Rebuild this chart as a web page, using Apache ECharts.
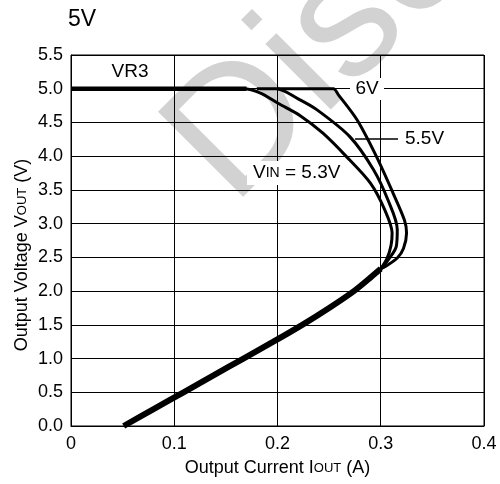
<!DOCTYPE html>
<html>
<head>
<meta charset="utf-8">
<script src="https://cdn.jsdelivr.net/npm/echarts@6/dist/echarts.min.js"></script>
<style>
  html, body { margin: 0; padding: 0; background: #fff; }
  #chart { width: 500px; height: 484px; }
</style>
</head>
<body>
<div id="chart"></div>
<script>
// 共同の下側カーブ (フォールドバック)
const baseCurrent = [0.051, 0.08, 0.109, 0.138, 0.167, 0.196, 0.224, 0.25, 0.274, 0.29, 0.30];
const baseVoltage = [0, 0.25, 0.5, 0.75, 1.0, 1.25, 1.5, 1.75, 2.0, 2.2, 2.33];

// 5.0V flat part shared by all curves
const flatCurrent = [0, 0.17];
const flatVoltage = [5.0, 5.0];

const vin53Current = [0.14, 0.167, 0.183, 0.201, 0.222, 0.244, 0.267, 0.29, 0.304, 0.311, 0.310, 0.306, 0.30];
const vin53Voltage = [5.0, 5.0, 4.94, 4.78, 4.6, 4.34, 3.99, 3.6, 3.2, 2.86, 2.68, 2.48, 2.33];

const vin55Current = [0.18, 0.199, 0.22, 0.238, 0.27, 0.293, 0.307, 0.316, 0.315, 0.309, 0.30];
const vin55Voltage = [5.0, 5.0, 4.85, 4.69, 4.29, 3.80, 3.35, 2.91, 2.66, 2.5, 2.33];

const vin6Current = [0.2, 0.254, 0.259, 0.277, 0.296, 0.312, 0.323, 0.325, 0.322, 0.316, 0.306, 0.30];
const vin6Voltage = [5.0, 5.0, 4.91, 4.54, 3.99, 3.45, 3.05, 2.86, 2.63, 2.49, 2.38, 2.33];

const xTicks = ['0', '0.1', '0.2', '0.3', '0.4'];

const pairs = (xs, ys) => xs.map((x, i) => [x, ys[i]]);

const font = '"Liberation Sans", Arial, sans-serif';
const chart = echarts.init(document.getElementById('chart'));

const curve = (name, xs, ys, width) => ({
    name: name,
    type: 'line',
    data: pairs(xs, ys),
    symbol: 'none',
    smooth: 0.3,
    lineStyle: { color: '#000', width: width },
    z: 5
});

const option = {
    animation: false,
    backgroundColor: '#fff',
    grid: {
        left: 71,
        right: 16,
        top: 55,
        bottom: 58,
        show: true,
        borderColor: '#000',
        borderWidth: 1
    },
    xAxis: {
        type: 'value',
        min: 0,
        max: 0.4,
        interval: 0.1,
        name: 'Output Current I{s|OUT} (A)',
        nameLocation: 'middle',
        nameGap: 33,
        nameTextStyle: {
            color: '#000', fontSize: 18, fontFamily: font,
            rich: { s: { fontSize: 13, fontFamily: font, color: '#000' } }
        },
        axisLine: { lineStyle: { color: '#000' } },
        axisTick: { show: false },
        axisLabel: {
            color: '#000', fontSize: 18, fontFamily: font, margin: 9,
            formatter: (v) => xTicks[Math.round(v * 10)]
        },
        splitLine: { show: true, lineStyle: { color: '#000', width: 1 } }
    },
    yAxis: {
        type: 'value',
        min: 0,
        max: 5.5,
        interval: 0.5,
        axisLine: { show: true, lineStyle: { color: '#000' } },
        axisTick: { show: false },
        axisLabel: {
            color: '#000', fontSize: 18, fontFamily: font, margin: 8,
            formatter: (v) => v.toFixed(1)
        },
        splitLine: { show: true, lineStyle: { color: '#000', width: 1 } }
    },
    graphic: [
        {
            // watermark
            type: 'text',
            z: -10,
            x: 199,
            y: 173,
            rotation: 45 * Math.PI / 180,
            silent: true,
            style: {
                text: 'Disc',
                font: '175px "Liberation Sans", Arial, sans-serif',
                fill: '#d2d2d2',
                textAlign: 'left',
                textVerticalAlign: 'middle'
            }
        },
        {
            // y axis title
            type: 'text', z: 20, x: 22, y: 255,
            rotation: Math.PI / 2,
            style: {
                text: 'Output Voltage V{s|OUT} (V)',
                textAlign: 'center',
                textVerticalAlign: 'middle',
                fontSize: 18,
                fontFamily: font,
                fill: '#000',
                rich: { s: { fontSize: 13, fontFamily: font, fill: '#000' } }
            }
        },
        {
            type: 'text', z: 20, x: 68, y: 20,
            style: { text: '5V', font: '23px "Liberation Sans", Arial, sans-serif', fill: '#000', textVerticalAlign: 'middle' }
        },
        {
            type: 'text', z: 20, x: 130, y: 72,
            style: { text: 'VR3', font: '19px "Liberation Sans", Arial, sans-serif', fill: '#000', textAlign: 'center', textVerticalAlign: 'middle' }
        },
        {
            type: 'rect', z: 15, shape: { x: 350, y: 78, width: 34, height: 22 },
            style: { fill: '#fff' }
        },
        {
            type: 'text', z: 20, x: 367, y: 89,
            style: { text: '6V', font: '19px "Liberation Sans", Arial, sans-serif', fill: '#000', textAlign: 'center', textVerticalAlign: 'middle' }
        },
        {
            type: 'line', z: 20, shape: { x1: 355, y1: 139, x2: 398, y2: 139 },
            style: { stroke: '#000', lineWidth: 1.5 }
        },
        {
            type: 'rect', z: 15, shape: { x: 400, y: 128, width: 48, height: 22 },
            style: { fill: '#fff' }
        },
        {
            type: 'text', z: 20, x: 405, y: 139,
            style: { text: '5.5V', font: '19px "Liberation Sans", Arial, sans-serif', fill: '#000', textAlign: 'left', textVerticalAlign: 'middle' }
        },
        {
            type: 'rect', z: 15, shape: { x: 247, y: 161, width: 102, height: 24 },
            style: { fill: '#fff' }
        },
        {
            type: 'text', z: 20, x: 253, y: 173,
            style: {
                text: '{a|V}{b|IN}{a| = 5.3V}',
                textAlign: 'left',
                textVerticalAlign: 'middle',
                rich: {
                    a: { fontSize: 19, fontFamily: font, color: '#000' },
                    b: { fontSize: 14, fontFamily: font, color: '#000' }
                }
            }
        }
    ],
    series: [
        curve('base', baseCurrent, baseVoltage, 6),
        curve('flat', flatCurrent, flatVoltage, 4.5),
        curve('5.3V', vin53Current, vin53Voltage, 3),
        curve('5.5V', vin55Current, vin55Voltage, 3),
        curve('6V', vin6Current, vin6Voltage, 3)
    ]
};

chart.setOption(option);
</script>
</body>
</html>
